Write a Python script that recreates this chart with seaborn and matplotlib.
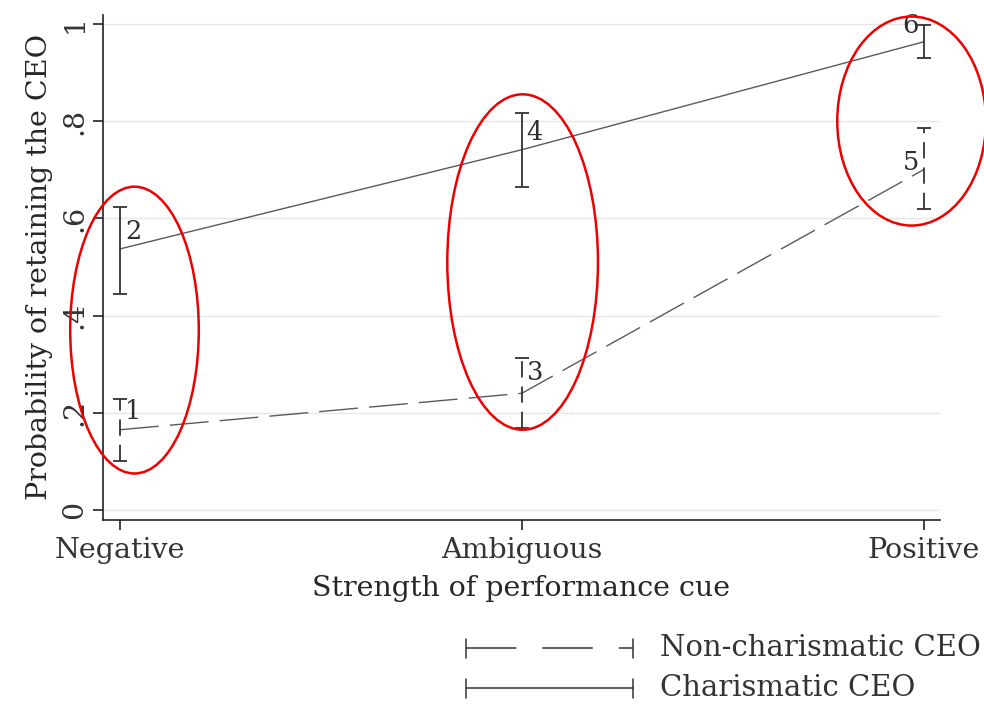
import matplotlib
matplotlib.use("Agg")
import matplotlib.pyplot as plt
from matplotlib.patches import Ellipse
from matplotlib.lines import Line2D
import numpy as np
import pandas as pd
import seaborn as sns

# Performance-cue categories
cues = ["Negative", "Ambiguous", "Positive"]

# Predicted retention probabilities and 95% confidence bounds
noncharismatic_prob = [0.165, 0.240, 0.700]
noncharismatic_lo = [0.100, 0.169, 0.619]
noncharismatic_hi = [0.228, 0.313, 0.786]

charismatic_prob = [0.537, 0.741, 0.963]
charismatic_lo = [0.444, 0.665, 0.930]
charismatic_hi = [0.623, 0.817, 0.998]

noncharismatic_ids = ["1", "3", "5"]
charismatic_ids = ["2", "4", "6"]

y_ticks = [0, 0.2, 0.4, 0.6, 0.8, 1.0]
y_tick_labels = ["0", ".2", ".4", ".6", ".8", "1"]

sns.set_theme(style="white")
plt.rcParams["font.family"] = ["DejaVu Serif"]

fig = plt.figure(figsize=(9.84, 7.06), dpi=100)
ax = fig.add_axes([0.1047, 0.2635, 0.8503, 0.7155])

df = pd.DataFrame({
    "cue": list(range(3)) * 2,
    "prob": noncharismatic_prob + charismatic_prob,
    "group": ["Non-charismatic CEO"] * 3 + ["Charismatic CEO"] * 3,
})

ink = "#333333"
sns.lineplot(data=df, x="cue", y="prob", style="group",
             dashes={"Non-charismatic CEO": (28, 8), "Charismatic CEO": ""},
             color="#5a5a5a", lw=1.0, ax=ax, legend=False)

xs = np.arange(3)
for lo, hi, p, ls in [(noncharismatic_lo, noncharismatic_hi, noncharismatic_prob, (0, (9, 5))),
                      (charismatic_lo, charismatic_hi, charismatic_prob, "solid")]:
    p = np.array(p)
    eb = ax.errorbar(xs, p, yerr=[p - np.array(lo), np.array(hi) - p],
                     fmt="none", ecolor=ink, elinewidth=1.3, capsize=5, capthick=1.3)
    eb[2][0].set_linestyle(ls)

# Point identifiers beside each interval
label_offsets = {"1": (0.012, -0.0), "2": (0.012, -0.025), "3": (0.012, -0.005),
                 "4": (0.012, -0.015), "5": (-0.012, -0.045), "6": (-0.012, 0.025)}
for ids, hi in [(noncharismatic_ids, noncharismatic_hi), (charismatic_ids, charismatic_hi)]:
    for i, (lab, h) in enumerate(zip(ids, hi)):
        dx, dy = label_offsets[lab]
        ax.text(i + dx, h + dy, lab, ha="left" if dx > 0 else "right", va="top",
                fontsize=18.5, color="#2e2e2e")

ax.set_xlim(-0.0423, 2.04)
ax.set_ylim(-0.0206, 1.0185)
ax.set_xticks(xs)
ax.set_xticklabels(cues, fontsize=20.5)
ax.set_yticks(y_ticks)
ax.set_yticklabels(y_tick_labels, fontsize=20.5, rotation=90, va="center")
ax.set_xlabel("Strength of performance cue", fontsize=20.5, labelpad=8)
ax.set_ylabel("Probability of retaining the CEO", fontsize=20.5, labelpad=6)
ax.yaxis.grid(True, color="#e6e6e6", lw=1.0)
ax.xaxis.grid(False)
for side in ["top", "right"]:
    ax.spines[side].set_visible(False)
for side in ["left", "bottom"]:
    ax.spines[side].set_color("#222222")
    ax.spines[side].set_linewidth(1.2)
ax.tick_params(axis="both", which="both", length=7, width=1.2, color="#222222",
               bottom=True, left=True, colors="#333333")
ax.tick_params(axis="x", pad=5.5)

# Highlight ellipses around each cue
ell_specs = [(0.036, 0.37, 0.32, 0.59), (0.002, 0.51, 0.375, 0.69), (-0.03, 0.80, 0.37, 0.43)]
for i, (cx, cy, w, h) in enumerate(ell_specs):
    ax.add_patch(Ellipse((i + cx, cy), w, h,
                         fill=False, edgecolor="#ee0000", lw=1.8, clip_on=False, zorder=5))

# Legend drawn below the plot
for y, ls, text in [(0.0815, (0, (33, 17)), "Non-charismatic CEO"), (0.025, "solid", "Charismatic CEO")]:
    fig.add_artist(Line2D([0.4735, 0.643], [y, y], transform=fig.transFigure,
                          color=ink, lw=1.1, linestyle=ls))
    for xe in (0.4735, 0.643):
        fig.add_artist(Line2D([xe, xe], [y - 0.013, y + 0.013], transform=fig.transFigure,
                              color=ink, lw=1.1))
    fig.text(0.671, y, text, fontsize=21, va="center", ha="left", color="#333333")

fig.savefig("out.png", dpi=100, facecolor="white")
